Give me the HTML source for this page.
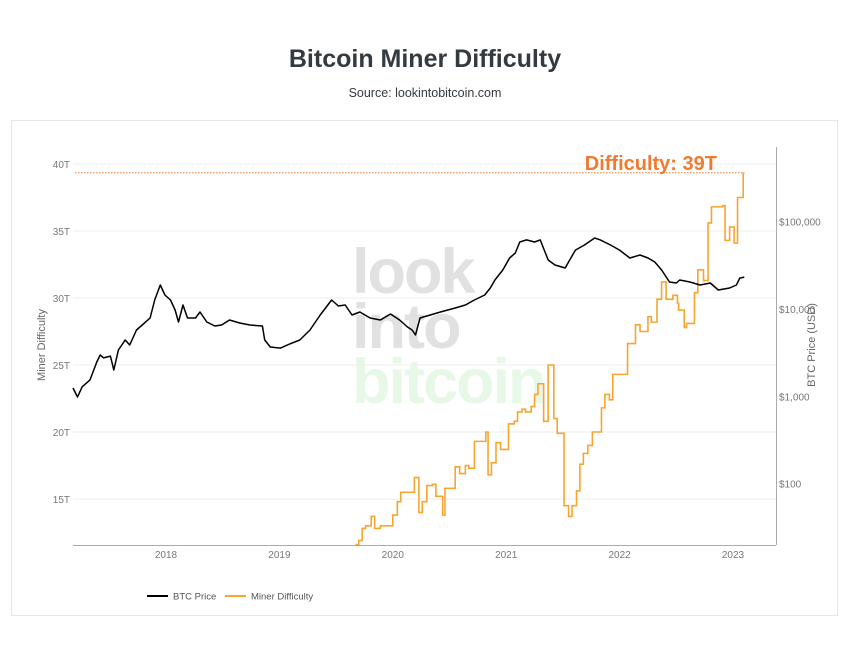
<!DOCTYPE html>
<html><head><meta charset="utf-8"><style>
body{margin:0;background:#fff;width:850px;height:653px;overflow:hidden;font-family:"Liberation Sans",sans-serif}
</style></head><body>
<svg id="chart" width="850" height="653" xmlns="http://www.w3.org/2000/svg" font-family="Liberation Sans, sans-serif">
<text x="425" y="67" text-anchor="middle" font-size="25" font-weight="bold" fill="#333a40">Bitcoin Miner Difficulty</text>
<text x="425" y="97" text-anchor="middle" font-size="12.5" fill="#333a40">Source: lookintobitcoin.com</text>
<rect x="11.5" y="120.5" width="826" height="495" fill="none" stroke="#e6e6e6"/>
<g font-weight="bold" font-size="63" letter-spacing="-2">
<text x="352" y="293" fill="#e1e1e1">look</text>
<text x="352" y="348" fill="#e1e1e1">into</text>
<text x="352" y="403" fill="#e7f8e7">bitcoin</text>
</g>
<g id="grid"></g>
<g id="marks"></g>
<line x1="73" y1="545.5" x2="776" y2="545.5" stroke="#aaa"/>
<line x1="776.5" y1="147" x2="776.5" y2="545" stroke="#aaa"/>
<text transform="translate(45,345) rotate(-90)" text-anchor="middle" font-size="11" fill="#666">Miner Difficulty</text>
<text transform="translate(815,345) rotate(-90)" text-anchor="middle" font-size="11" fill="#666">BTC Price (USD)</text>
<text x="717" y="170" text-anchor="end" font-size="20" font-weight="bold" fill="#f07a30">Difficulty: 39T</text>
<g>
<line x1="147" y1="596" x2="168" y2="596" stroke="#000" stroke-width="2"/>
<text x="173" y="599.5" font-size="9.5" fill="#555">BTC Price</text>
<line x1="225" y1="596" x2="246" y2="596" stroke="#f7a531" stroke-width="2"/>
<text x="251" y="599.5" font-size="9.5" fill="#555">Miner Difficulty</text>
</g>
</svg>
<script>
const yearTicks=[2018,2019,2020,2021,2022,2023];
const diffTicks=[15,20,25,30,35,40];
const priceTicks=[100,1000,10000,100000];
const priceTickLabels=["$100","$1,000","$10,000","$100,000"];
const latestDifficulty=39.35;
const priceDates=[2017.18,2017.22,2017.26,2017.33,2017.39,2017.42,2017.45,2017.51,2017.54,2017.58,2017.64,2017.68,2017.74,2017.79,2017.86,2017.90,2017.95,2017.99,2018.04,2018.08,2018.11,2018.15,2018.19,2018.26,2018.30,2018.36,2018.43,2018.49,2018.56,2018.65,2018.74,2018.85,2018.87,2018.92,2019.01,2019.09,2019.18,2019.27,2019.36,2019.46,2019.52,2019.58,2019.64,2019.71,2019.80,2019.89,2019.98,2020.06,2020.13,2020.17,2020.20,2020.24,2020.33,2020.42,2020.55,2020.64,2020.72,2020.81,2020.86,2020.90,2020.97,2021.03,2021.08,2021.12,2021.18,2021.25,2021.30,2021.37,2021.43,2021.52,2021.56,2021.61,2021.69,2021.78,2021.83,2021.92,2022.00,2022.09,2022.18,2022.25,2022.31,2022.37,2022.44,2022.50,2022.53,2022.62,2022.71,2022.80,2022.87,2022.97,2023.03,2023.06,2023.10];
const priceValues=[1245,982,1280,1540,2470,2970,2750,2890,2000,3390,4420,3870,5740,6560,7890,12680,18830,14460,12680,9740,7100,11110,7890,7890,9240,7100,6390,6560,7480,6920,6560,6390,4420,3670,3570,3970,4420,5740,8540,12680,10820,11110,8540,9240,7890,7480,8770,7480,6220,5740,5040,7890,8540,9240,10270,11110,12680,14460,17400,21470,27980,38350,43800,58500,61800,58500,61800,36400,31900,29500,36400,47300,54100,65100,61800,54100,47300,38350,41500,38350,34500,27980,20400,19850,21470,20400,18830,19850,16500,17400,18830,22600,23200];
const diffDates=[2019.67,2019.70,2019.73,2019.76,2019.81,2019.84,2019.89,2020.00,2020.04,2020.07,2020.19,2020.23,2020.26,2020.30,2020.35,2020.38,2020.44,2020.46,2020.55,2020.59,2020.64,2020.67,2020.72,2020.82,2020.84,2020.87,2020.91,2020.95,2021.02,2021.07,2021.10,2021.14,2021.17,2021.22,2021.25,2021.28,2021.33,2021.37,2021.42,2021.45,2021.51,2021.55,2021.58,2021.62,2021.65,2021.68,2021.72,2021.76,2021.84,2021.87,2021.91,2021.94,2022.07,2022.14,2022.18,2022.25,2022.28,2022.33,2022.37,2022.41,2022.47,2022.51,2022.52,2022.57,2022.59,2022.66,2022.69,2022.74,2022.78,2022.81,2022.91,2022.93,2022.97,2023.01,2023.04,2023.09,2023.10];
const diffValues=[11.6,11.9,12.8,13.0,13.7,12.8,13.0,13.8,14.8,15.5,16.6,14.0,14.8,16.0,16.1,15.2,13.8,15.8,17.4,16.9,17.5,17.3,19.3,20.0,16.8,17.7,19.2,18.7,20.6,20.8,21.5,21.7,21.5,21.9,22.8,23.6,20.8,25.0,21.0,19.9,14.5,13.7,14.5,15.6,17.6,18.4,19.0,20.0,21.8,22.8,22.4,24.3,26.6,28.0,27.5,28.6,28.2,29.9,31.2,29.9,30.2,29.6,29.1,27.8,28.1,30.4,32.1,31.3,35.6,36.8,36.9,34.3,35.3,34.1,37.5,39.3,39.3];

const NS="http://www.w3.org/2000/svg";
const L=73,R=776,T=147,B=545;
function xScale(yr){return 166+(yr-2018)*113.4;}
function yDiff(t){return 164+(40-t)*13.4;}
function yPrice(p){return 309-(Math.log10(p)-4)*87.3;}
function mk(tag,attrs,parent){const e=document.createElementNS(NS,tag);for(const k in attrs)e.setAttribute(k,attrs[k]);parent.appendChild(e);return e;}
const grid=document.getElementById('grid'),marks=document.getElementById('marks');
diffTicks.forEach(t=>{
  const y=yDiff(t);
  const g=mk('line',{x1:L,x2:R,y1:y,y2:y,stroke:'#ececec'},grid);
  
  
  const tx=mk('text',{x:70,y:y+4,'text-anchor':'end','font-size':'10',fill:'#777'},grid);
  tx.textContent=t+'T';
  
  
});
priceTicks.forEach((p,i)=>{
  const tx=mk('text',{x:779,y:yPrice(p)+4,'font-size':'10',fill:'#777'},grid);
  tx.textContent=priceTickLabels[i];
  
  
});
yearTicks.forEach(yr=>{
  const tx=mk('text',{x:xScale(yr),y:558,'text-anchor':'middle','font-size':'10',fill:'#777'},grid);
  tx.textContent=yr;
  
  
});
const dl=mk('line',{x1:75,x2:xScale(diffDates[diffDates.length-1]),y1:yDiff(latestDifficulty),y2:yDiff(latestDifficulty),stroke:'#f07a30','stroke-dasharray':'1.5,1.5','stroke-width':'1'},marks);


let d='';
diffDates.forEach((dt,i)=>{
  const x=xScale(dt),y=Math.min(yDiff(diffValues[i]),B);
  if(i===0)d+='M'+x+','+y;else d+='H'+x+'V'+y;
});
const dp=mk('path',{d:d,fill:'none',stroke:'#f7a531','stroke-width':'1.6'},marks);


const pd=priceDates.map((dt,i)=>(i?'L':'M')+xScale(dt).toFixed(1)+','+yPrice(priceValues[i]).toFixed(1)).join('');
const pp=mk('path',{d:pd,fill:'none',stroke:'#000','stroke-width':'1.5','stroke-linejoin':'round'},marks);


</script>
</body></html>
